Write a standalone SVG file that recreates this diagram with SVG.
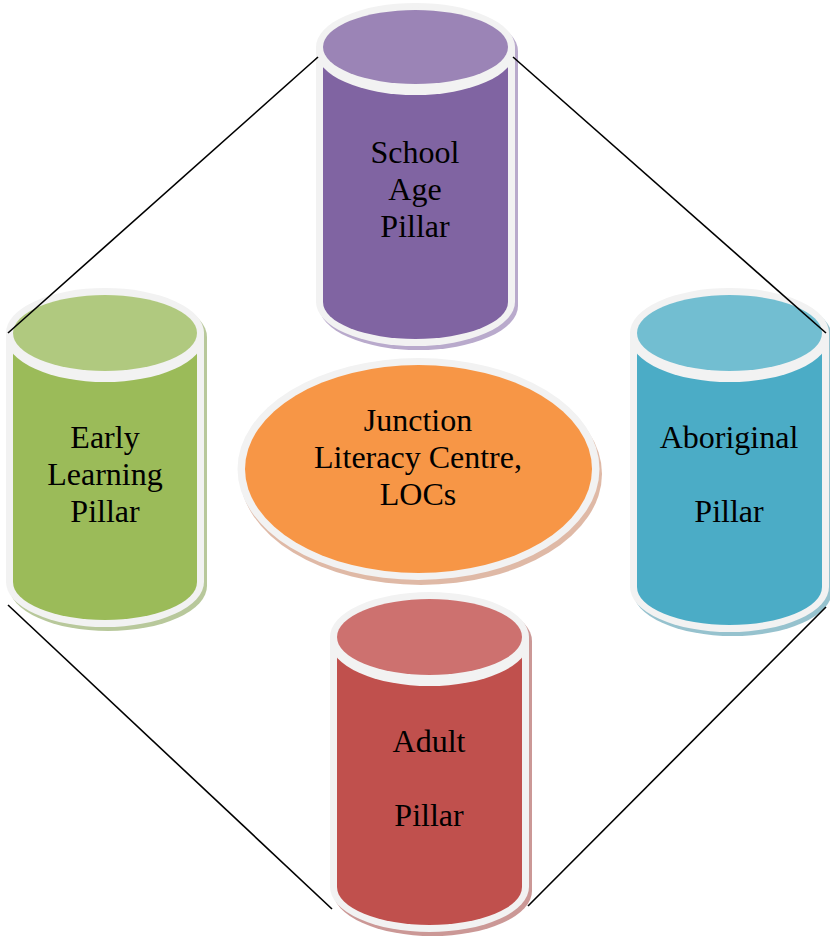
<svg xmlns="http://www.w3.org/2000/svg" width="830" height="943" viewBox="0 0 830 943">
<style>
.rim{fill:#F2F2F2}
.lbl{font-family:"Liberation Serif","Times New Roman",serif;font-size:32px;fill:#000;text-anchor:middle}
.pur .body{fill:#8064A2}.pur .top{fill:#9B84B6}.pur .sh{fill:#8064A2;opacity:.55}
.grn .body{fill:#9BBB59}.grn .top{fill:#B0C97F}.grn .sh{fill:#7E9A48;opacity:.55}
.blu .body{fill:#4BACC6}.blu .top{fill:#72BED1}.blu .sh{fill:#3F8FA5;opacity:.55}
.red .body{fill:#C0504D}.red .top{fill:#CD716F}.red .sh{fill:#A04340;opacity:.55}
.conn line{stroke:#000;stroke-width:1.6}
</style>
<rect width="830" height="943" fill="#fff"/>
<g id="school-age" class="pur">
<path class="sh" d="M319,51 L319,306 A99.5 44 0 0 0 518,306 L518,51 A99.5 44 0 0 0 319,51 Z"/>
<path class="rim" d="M316,47 L316,302 A99.5 44 0 0 0 515,302 L515,47 A99.5 44 0 0 0 316,47 Z"/>
<path class="body" d="M323,47 L323,302 A92.5 37 0 0 0 508,302 L508,47 Z"/>
<ellipse class="rim" cx="415.5" cy="51" rx="99.5" ry="44"/>
<ellipse class="top" cx="415.5" cy="47" rx="92.5" ry="37"/>
<text class="lbl" x="415" y="163">School</text>
<text class="lbl" x="415" y="200">Age</text>
<text class="lbl" x="415" y="237">Pillar</text>
</g>
<g id="early-learning" class="grn">
<path class="sh" d="M9,337 L9,586 A99 45 0 0 0 207,586 L207,337 A99 45 0 0 0 9,337 Z"/>
<path class="rim" d="M6,333 L6,582 A99 45 0 0 0 204,582 L204,333 A99 45 0 0 0 6,333 Z"/>
<path class="body" d="M13,333 L13,582 A92 38 0 0 0 197,582 L197,333 Z"/>
<ellipse class="rim" cx="105" cy="337" rx="99" ry="45"/>
<ellipse class="top" cx="105" cy="333" rx="92" ry="38"/>
<text class="lbl" x="105" y="448">Early</text>
<text class="lbl" x="105" y="485">Learning</text>
<text class="lbl" x="105" y="522">Pillar</text>
</g>
<g id="aboriginal" class="blu">
<path class="sh" d="M633,337 L633,591 A99.5 45 0 0 0 832,591 L832,337 A99.5 45 0 0 0 633,337 Z"/>
<path class="rim" d="M630,333 L630,587 A99.5 45 0 0 0 829,587 L829,333 A99.5 45 0 0 0 630,333 Z"/>
<path class="body" d="M637,333 L637,587 A92.5 38 0 0 0 822,587 L822,333 Z"/>
<ellipse class="rim" cx="729.5" cy="337" rx="99.5" ry="45"/>
<ellipse class="top" cx="729.5" cy="333" rx="92.5" ry="38"/>
<text class="lbl" x="729" y="448">Aboriginal</text>
<text class="lbl" x="729" y="522">Pillar</text>
</g>
<g id="junction">
<ellipse cx="421" cy="474" rx="181" ry="111" fill="#C98A6A" opacity=".6"/>
<ellipse class="rim" cx="418.5" cy="469" rx="181" ry="111"/>
<ellipse cx="418.5" cy="469" rx="173.5" ry="104" fill="#F79646"/>
<text class="lbl" x="418" y="431">Junction</text>
<text class="lbl" x="418" y="468">Literacy Centre,</text>
<text class="lbl" x="418" y="505">LOCs</text>
</g>
<g id="adult" class="red">
<path class="sh" d="M333,641 L333,891 A99.5 45 0 0 0 532,891 L532,641 A99.5 45 0 0 0 333,641 Z"/>
<path class="rim" d="M330,637 L330,887 A99.5 45 0 0 0 529,887 L529,637 A99.5 45 0 0 0 330,637 Z"/>
<path class="body" d="M337,637 L337,887 A92.5 38 0 0 0 522,887 L522,637 Z"/>
<ellipse class="rim" cx="429.5" cy="641" rx="99.5" ry="45"/>
<ellipse class="top" cx="429.5" cy="637" rx="92.5" ry="38"/>
<text class="lbl" x="429" y="752">Adult</text>
<text class="lbl" x="429" y="826">Pillar</text>
</g>
<g class="conn" id="connectors">
<line x1="8" y1="333" x2="318" y2="57"/>
<line x1="513" y1="57" x2="826" y2="333"/>
<line x1="8" y1="605" x2="332" y2="909"/>
<line x1="826" y1="607" x2="528" y2="906"/>
</g>
</svg>
